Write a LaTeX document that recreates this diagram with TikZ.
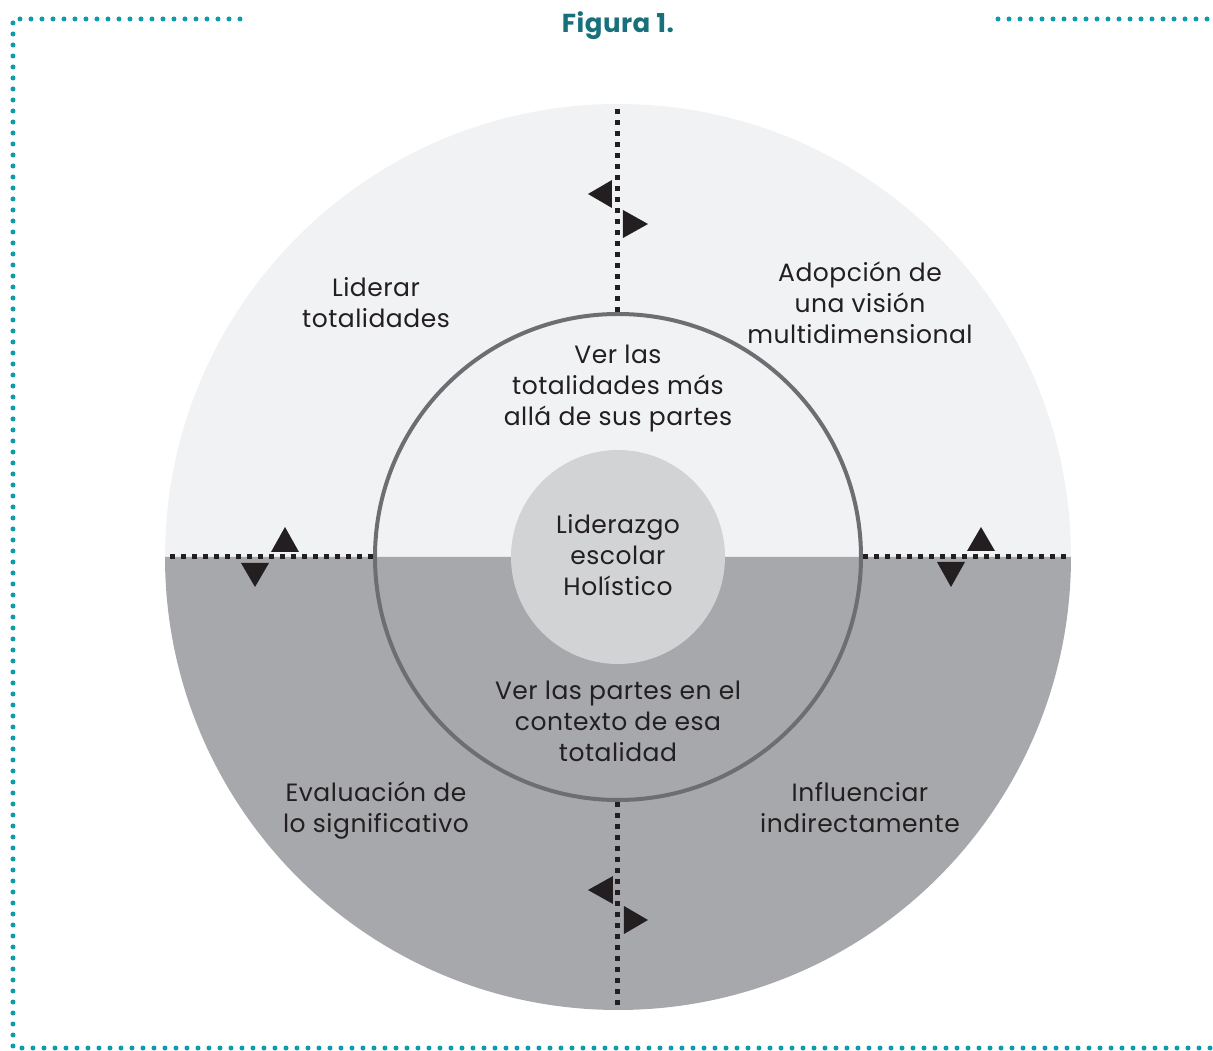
\documentclass[tikz,border=0pt]{standalone}
\usepackage{fontspec}
\setmainfont{Poppins}[LetterSpace=2]
\definecolor{upperfill}{HTML}{F1F2F4}
\definecolor{lowerfill}{HTML}{A7A8AB}
\definecolor{corefill}{HTML}{D1D3D4}
\definecolor{ringline}{HTML}{6D6E71}
\definecolor{inkdark}{HTML}{231F20}
\definecolor{frameteal}{HTML}{0E9CAB}
\definecolor{titleteal}{HTML}{18717A}
\tikzset{
  txt/.style={align=center, text=inkdark, font=\fontsize{25}{31}\selectfont},
  sep/.style={draw=inkdark, line width=5pt, dash pattern=on 5pt off 6pt},
  headfill/.style={fill=inkdark},
  frame/.style={draw=frameteal, line width=5pt, line cap=round, dash pattern=on 0pt off 11pt}
}
\begin{document}
\begin{tikzpicture}[x=1pt,y=1pt]
\useasboundingbox (-618,-494) rectangle (595,557);
\def \outerradius{453}
\def \ringradius{243}
\def \coreradius{107}
% two halves of the outer disc
\fill[upperfill] (\outerradius,0) arc (0:180:\outerradius) -- cycle;
\fill[lowerfill] (\outerradius,0) arc (0:-180:\outerradius) -- cycle;
\node (ring) at (0,0) [circle, draw=ringline, line width=4pt, inner sep=0, minimum size=2*\ringradius]{};
\node (core) at (0,0) [circle, fill=corefill, inner sep=0, minimum size=2*\coreradius]{};
% separators and paired arrow heads
\foreach \a in {90,0,270,180} {
  \coordinate (rim\a) at (\a:\outerradius);
  \draw[sep] (ring.\a) -- (rim\a);
}
\foreach \a in {0,90,180,270} {
  \fill[headfill, rotate=\a] (-6,349) -- (-6,377) -- (-30,363) -- cycle;
  \fill[headfill, rotate=\a] (5,319) -- (5,347) -- (30,333) -- cycle;
}
\node (center) at (0,2) [txt]{Liderazgo\\escolar\\Holístico};
\node (whole) at (0,168) [txt]{Ver las\\totalidades más\\allá de sus partes};
\node (parts) at (0,-164) [txt]{Ver las partes en el\\contexto de esa\\totalidad};
\node (lead) at (-242,254) [txt]{Liderar\\totalidades};
\node (vision) at (242,254) [txt]{Adopción de\\una visión\\multidimensional};
\node (eval) at (-242,-254) [txt]{Evaluación de\\lo significativo};
\node (influence) at (242,-251) [txt]{Influenciar\\indirectamente};
% frame and title
\draw[frame] (-378,538) -- (-605,538) -- (-605,-491) -- (595,-491);
\draw[frame] (380,538) -- (595,538);
\node (title) at (0,531) [text=titleteal, font=\fontsize{26}{30}\selectfont\bfseries]{Figura 1.};
\end{tikzpicture}
\end{document}
